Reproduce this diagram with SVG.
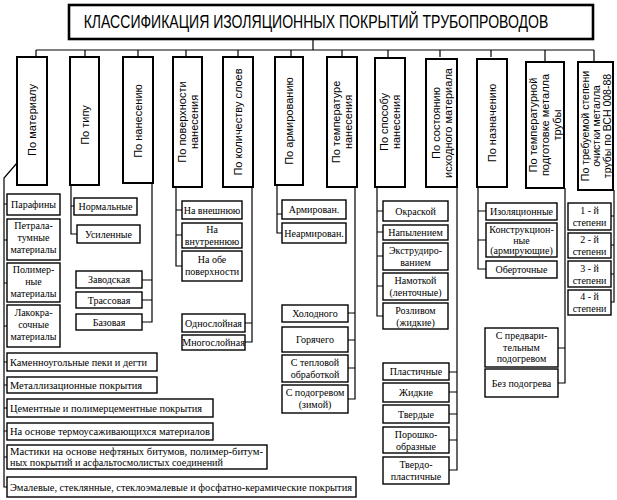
<svg xmlns="http://www.w3.org/2000/svg" width="617" height="500" viewBox="0 0 617 500">
<style>
.bg{fill:#fff}
.box{fill:#fff;stroke:#000;stroke-width:1.4}
.cat{fill:#fff;stroke:#000;stroke-width:2}
.ttl{fill:#fff;stroke:#000;stroke-width:2.6}
.ln{fill:none;stroke:#000;stroke-width:1.2}
.t{font-family:"Liberation Serif",serif;font-size:10px;text-anchor:middle;fill:#000}
.tl{font-family:"Liberation Serif",serif;font-size:10px;text-anchor:start;fill:#000}
.c{font-family:"Liberation Sans",sans-serif;font-size:11px;text-anchor:middle;fill:#000}
.h{font-family:"Liberation Sans",sans-serif;font-size:18px;text-anchor:middle;fill:#000}
</style>
<rect class="bg" x="0" y="0" width="617" height="500"/>
<g id="connectors">
<path class="ln" d="M313 39V50M36 50H594M36 50V57M85 50V57M138 50V57M186 50V57M238 50V57M291 50V57M342 50V57M388 50V57M440 50V57M491 50V57M545 50V62M594 50V62"/>
<path class="ln" d="M17 163L4 178V487H7M4 204H7M4 240H7M4 283H7M4 326H7M4 362H7M4 385H7M4 408H7M4 431H7M4 457H7"/>
<path class="ln" d="M71 185V234H77M71 206H74"/>
<path class="ln" d="M152 183V322H142M142 280H152M142 300H152"/>
<path class="ln" d="M176 187V266H182M176 210H182M176 235H182"/>
<path class="ln" d="M252 187V342H245M245 323H252"/>
<path class="ln" d="M277 185V233H282M277 214H282"/>
<path class="ln" d="M355 187V399H348M348 313H355M348 340H355M348 368H355"/>
<path class="ln" d="M377 187V316H383M377 211H383M377 232H383M377 256H383M377 286H383"/>
<path class="ln" d="M457 187V470H449M449 372H457M449 392H457M449 414H457M449 440H457"/>
<path class="ln" d="M478 187V269H486M478 211H486M478 240H486"/>
<path class="ln" d="M565 188V383H558M558 348H565"/>
<path class="ln" d="M614 190V302H611M611 216H614M611 245H614M611 274H614"/>
</g>
<g id="title">
<rect class="ttl" x="69" y="5" width="524" height="34"/>
<text class="h" transform="translate(316,28) scale(0.78,1)" x="0" y="0">КЛАССИФИКАЦИЯ ИЗОЛЯЦИОННЫХ ПОКРЫТИЙ ТРУБОПРОВОДОВ</text>
</g>
<g id="cat1"><rect class="cat" x="17" y="57" width="30" height="128"/><text class="c" transform="translate(32,120) rotate(-90)" y="4">По материалу</text></g>
<g id="cat2"><rect class="cat" x="70" y="57" width="29" height="128"/><text class="c" transform="translate(84.5,125) rotate(-90)" y="4">По типу</text></g>
<g id="cat3"><rect class="cat" x="123" y="57" width="30" height="126"/><text class="c" transform="translate(138,121) rotate(-90)" y="4">По нанесению</text></g>
<g id="cat4"><rect class="cat" x="173" y="57" width="29" height="130"/><text class="c" transform="translate(187.5,122) rotate(-90)"><tspan x="0" y="-2">По поверхности</tspan><tspan x="0" y="10">нанесения</tspan></text></g>
<g id="cat5"><rect class="cat" x="223" y="57" width="30" height="130"/><text class="c" transform="translate(238,122) rotate(-90)" y="4">По количеству слоев</text></g>
<g id="cat6"><rect class="cat" x="275" y="57" width="28" height="128"/><text class="c" transform="translate(289,121) rotate(-90)" y="4">По армированию</text></g>
<g id="cat7"><rect class="cat" x="327" y="57" width="30" height="130"/><text class="c" transform="translate(342,122) rotate(-90)"><tspan x="0" y="-2">По температуре</tspan><tspan x="0" y="10">нанесения</tspan></text></g>
<g id="cat8"><rect class="cat" x="375" y="58" width="30" height="129"/><text class="c" transform="translate(390,122) rotate(-90)"><tspan x="0" y="-2">По способу</tspan><tspan x="0" y="10">нанесения</tspan></text></g>
<g id="cat9"><rect class="cat" x="426" y="59" width="31" height="128"/><text class="c" transform="translate(441.5,123) rotate(-90)"><tspan x="0" y="-2">По состоянию</tspan><tspan x="0" y="10">исходного материала</tspan></text></g>
<g id="cat10"><rect class="cat" x="477" y="59" width="30" height="128"/><text class="c" transform="translate(492,123) rotate(-90)" y="4">По назначению</text></g>
<g id="cat11"><rect class="cat" x="526" y="62" width="38" height="126"/><text class="c" transform="translate(545,125) rotate(-90)"><tspan x="0" y="-8">По температурной</tspan><tspan x="0" y="4">подготовке металла</tspan><tspan x="0" y="16">трубы</tspan></text></g>
<g id="cat12"><rect class="cat" x="578" y="62" width="35" height="128"/><text class="c" style="font-size:10.5px" transform="translate(595.5,126) rotate(-90)"><tspan x="0" y="-7">По требуемой степени</tspan><tspan x="0" y="4">очистки металла</tspan><tspan x="0" y="15">трубы по ВСН 008-88</tspan></text></g>

<g id="n-parafiny"><rect class="box" x="7" y="194" width="53" height="21"/><text class="t" x="33.5" y="208">Парафины</text></g>
<g id="n-petralatum"><rect class="box" x="7" y="219" width="53" height="41"/><text class="t"><tspan x="33.5" y="229">Петрала-</tspan><tspan x="33.5" y="241">тумные</tspan><tspan x="33.5" y="253">материалы</tspan></text></g>
<g id="n-polimer"><rect class="box" x="7" y="263" width="53" height="39"/><text class="t"><tspan x="33.5" y="273">Полимер-</tspan><tspan x="33.5" y="285">ные</tspan><tspan x="33.5" y="297">материалы</tspan></text></g>
<g id="n-lakokras"><rect class="box" x="7" y="305" width="53" height="42"/><text class="t"><tspan x="33.5" y="316">Лакокра-</tspan><tspan x="33.5" y="328">сочные</tspan><tspan x="33.5" y="340">материалы</tspan></text></g>
<g id="n-kamen"><rect class="box" x="7" y="353" width="150" height="18"/><text class="tl" x="10" y="365.5" textLength="137" lengthAdjust="spacingAndGlyphs">Каменноугольные пеки и дегти</text></g>
<g id="n-metall"><rect class="box" x="7" y="377" width="150" height="16"/><text class="tl" x="10" y="388.5" textLength="132" lengthAdjust="spacingAndGlyphs">Металлизационные покрытия</text></g>
<g id="n-cement"><rect class="box" x="7" y="399" width="206" height="18"/><text class="tl" x="10" y="411.5" textLength="192" lengthAdjust="spacingAndGlyphs">Цементные и полимерцементные покрытия</text></g>
<g id="n-termo"><rect class="box" x="7" y="423" width="206" height="17"/><text class="tl" x="10" y="435" textLength="200" lengthAdjust="spacingAndGlyphs">На основе термоусаживающихся материалов</text></g>
<g id="n-mastiki"><rect class="box" x="7" y="445" width="260" height="24"/><text class="tl"><tspan x="10" y="455" textLength="253" lengthAdjust="spacingAndGlyphs">Мастики на основе нефтяных битумов, полимер-битум-</tspan><tspan x="10" y="466" textLength="213" lengthAdjust="spacingAndGlyphs">ных покрытий и асфальтосмолистых соединений</tspan></text></g>
<g id="n-emal"><rect class="box" x="7" y="477" width="349" height="20"/><text class="tl" x="10" y="490.5" textLength="342" lengthAdjust="spacingAndGlyphs">Эмалевые, стеклянные, стеклоэмалевые и фосфатно-керамические покрытия</text></g>

<g id="n-normal"><rect class="box" x="74" y="198" width="63" height="17"/><text class="t" x="105.5" y="210">Нормальные</text></g>
<g id="n-usil"><rect class="box" x="77" y="225" width="63" height="18"/><text class="t" x="108.5" y="237.5">Усиленные</text></g>

<g id="n-zavod"><rect class="box" x="76" y="271" width="66" height="17"/><text class="t" x="109" y="283">Заводская</text></g>
<g id="n-trass"><rect class="box" x="76" y="292" width="66" height="16"/><text class="t" x="109" y="303.5">Трассовая</text></g>
<g id="n-baz"><rect class="box" x="76" y="314" width="66" height="16"/><text class="t" x="109" y="325.5">Базовая</text></g>

<g id="n-vnesh"><rect class="box" x="182" y="201" width="60" height="18"/><text class="t" x="212" y="213.5">На внешнюю</text></g>
<g id="n-vnutr"><rect class="box" x="182" y="223" width="60" height="25"/><text class="t"><tspan x="212" y="233">На</tspan><tspan x="212" y="244.5">внутреннюю</tspan></text></g>
<g id="n-obe"><rect class="box" x="182" y="251" width="60" height="30"/><text class="t"><tspan x="212" y="263">На обе</tspan><tspan x="212" y="275">поверхности</tspan></text></g>

<g id="n-odno"><rect class="box" x="182" y="314" width="63" height="18"/><text class="t" x="213.5" y="326.5">Однослойная</text></g>
<g id="n-mnogo"><rect class="box" x="182" y="335" width="63" height="15"/><text class="t" x="213.5" y="346">Многослойная</text></g>

<g id="n-armir"><rect class="box" x="282" y="200" width="64" height="19"/><text class="t" x="314" y="213">Армирован.</text></g>
<g id="n-nearmir"><rect class="box" x="282" y="223" width="64" height="20"/><text class="t" x="314" y="236.5">Неармирован.</text></g>

<g id="n-holod"><rect class="box" x="282" y="305" width="66" height="17"/><text class="t" x="315" y="317">Холодного</text></g>
<g id="n-gor"><rect class="box" x="282" y="327" width="66" height="25"/><text class="t" x="315" y="343">Горячего</text></g>
<g id="n-teplo"><rect class="box" x="282" y="355" width="66" height="27"/><text class="t"><tspan x="315" y="366">С тепловой</tspan><tspan x="315" y="377.5">обработкой</tspan></text></g>
<g id="n-podogr"><rect class="box" x="282" y="385" width="66" height="28"/><text class="t"><tspan x="315" y="396">С подогревом</tspan><tspan x="315" y="407.5">(зимой)</tspan></text></g>

<g id="n-okr"><rect class="box" x="383" y="201" width="65" height="20"/><text class="t" x="415.5" y="214.5">Окраской</text></g>
<g id="n-napyl"><rect class="box" x="383" y="225" width="65" height="15"/><text class="t" x="415.5" y="236">Напылением</text></g>
<g id="n-ekstr"><rect class="box" x="383" y="243" width="65" height="27"/><text class="t"><tspan x="415.5" y="254">Экструдиро-</tspan><tspan x="415.5" y="265.5">ванием</tspan></text></g>
<g id="n-namot"><rect class="box" x="383" y="273" width="65" height="27"/><text class="t"><tspan x="415.5" y="284">Намоткой</tspan><tspan x="415.5" y="295.5">(ленточные)</tspan></text></g>
<g id="n-rozliv"><rect class="box" x="383" y="303" width="65" height="26"/><text class="t"><tspan x="415.5" y="314">Розливом</tspan><tspan x="415.5" y="325.5">(жидкие)</tspan></text></g>

<g id="n-plast"><rect class="box" x="383" y="363" width="66" height="17"/><text class="t" x="416" y="375">Пластичные</text></g>
<g id="n-zhid"><rect class="box" x="383" y="383" width="66" height="19"/><text class="t" x="416" y="396">Жидкие</text></g>
<g id="n-tverd"><rect class="box" x="383" y="405" width="66" height="18"/><text class="t" x="416" y="417.5">Твердые</text></g>
<g id="n-porosh"><rect class="box" x="383" y="427" width="66" height="26"/><text class="t"><tspan x="416" y="438">Порошко-</tspan><tspan x="416" y="449.5">образные</tspan></text></g>
<g id="n-tverdopl"><rect class="box" x="383" y="457" width="66" height="27"/><text class="t"><tspan x="416" y="468">Твердо-</tspan><tspan x="416" y="479.5">пластичные</tspan></text></g>

<g id="n-izol"><rect class="box" x="486" y="203" width="71" height="17"/><text class="t" x="521.5" y="215">Изоляционные</text></g>
<g id="n-konstr"><rect class="box" x="486" y="223" width="71" height="34"/><text class="t"><tspan x="521.5" y="233">Конструкцион-</tspan><tspan x="521.5" y="243.5">ные</tspan><tspan x="521.5" y="254">(армирующие)</tspan></text></g>
<g id="n-obert"><rect class="box" x="486" y="261" width="71" height="17"/><text class="t" x="521.5" y="273">Оберточные</text></g>

<g id="n-predv"><rect class="box" x="485" y="328" width="73" height="39"/><text class="t"><tspan x="521.5" y="339">С предвари-</tspan><tspan x="521.5" y="350.5">тельным</tspan><tspan x="521.5" y="362">подогревом</tspan></text></g>
<g id="n-bez"><rect class="box" x="485" y="369" width="73" height="28"/><text class="t" x="521.5" y="386.5">Без подогрева</text></g>

<g id="n-st1"><rect class="box" x="568" y="203" width="43" height="27"/><text class="t"><tspan x="589.5" y="214">1 - й</tspan><tspan x="589.5" y="225.5">степени</tspan></text></g>
<g id="n-st2"><rect class="box" x="568" y="233" width="43" height="25"/><text class="t"><tspan x="589.5" y="243">2 - й</tspan><tspan x="589.5" y="254.5">степени</tspan></text></g>
<g id="n-st3"><rect class="box" x="568" y="261" width="43" height="26"/><text class="t"><tspan x="589.5" y="272">3 - й</tspan><tspan x="589.5" y="283.5">степени</tspan></text></g>
<g id="n-st4"><rect class="box" x="568" y="290" width="43" height="25"/><text class="t"><tspan x="589.5" y="300">4 - й</tspan><tspan x="589.5" y="311.5">степени</tspan></text></g>
</svg>
